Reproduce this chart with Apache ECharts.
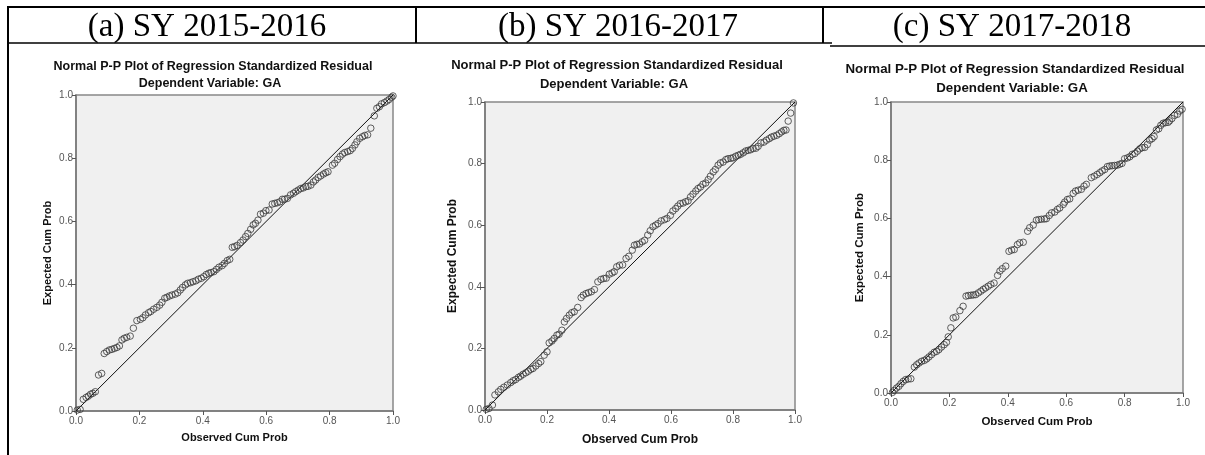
<!DOCTYPE html>
<html>
<head>
<meta charset="utf-8">
<script src="https://cdn.jsdelivr.net/npm/echarts@6/dist/echarts.min.js"></script>
<style>
html,body{margin:0;padding:0;background:#fff;}
#c{width:1205px;height:455px;}
</style>
</head>
<body>
<div id="c"></div>
<script>
// ---------- data ----------
const panelHeaders = ['(a) SY 2015-2016', '(b) SY 2016-2017', '(c) SY 2017-2018'];
const chartTitle = 'Normal P-P Plot of Regression Standardized Residual';
const chartSubtitle = 'Dependent Variable: GA';
const xAxisTitle = 'Observed Cum Prob';
const yAxisTitle = 'Expected Cum Prob';
const tickValues = [0.0, 0.2, 0.4, 0.6, 0.8, 1.0];
const refDiagonal = [[0, 0], [1, 1]];

// Panel (a) SY 2015-2016
const observedA = [0.004,0.013,0.023,0.032,0.039,0.046,0.053,0.061,0.071,0.081,0.089,0.097,0.105,0.113,0.121,0.129,0.137,0.145,0.152,0.160,0.171,0.181,0.192,0.203,0.211,0.219,0.229,0.236,0.245,0.255,0.264,0.271,0.280,0.287,0.295,0.303,0.313,0.321,0.329,0.336,0.345,0.352,0.361,0.369,0.378,0.386,0.395,0.403,0.411,0.419,0.426,0.435,0.443,0.451,0.461,0.468,0.477,0.485,0.493,0.500,0.508,0.519,0.527,0.535,0.542,0.551,0.559,0.566,0.574,0.582,0.591,0.599,0.609,0.619,0.627,0.635,0.643,0.651,0.658,0.667,0.677,0.686,0.693,0.701,0.709,0.717,0.725,0.732,0.741,0.749,0.756,0.764,0.772,0.781,0.788,0.795,0.809,0.816,0.825,0.833,0.841,0.848,0.857,0.865,0.872,0.880,0.886,0.895,0.904,0.911,0.920,0.930,0.941,0.949,0.957,0.964,0.973,0.981,0.988,0.996,1.000];
const expectedA = [0.003,0.005,0.037,0.043,0.047,0.053,0.056,0.061,0.114,0.119,0.182,0.188,0.193,0.195,0.198,0.201,0.206,0.225,0.230,0.233,0.237,0.262,0.286,0.290,0.295,0.304,0.311,0.315,0.322,0.328,0.335,0.344,0.357,0.360,0.364,0.367,0.370,0.374,0.383,0.391,0.399,0.404,0.406,0.409,0.412,0.417,0.420,0.425,0.432,0.436,0.438,0.441,0.448,0.455,0.460,0.467,0.476,0.480,0.518,0.520,0.524,0.533,0.541,0.552,0.562,0.575,0.589,0.594,0.604,0.623,0.626,0.634,0.636,0.655,0.657,0.659,0.662,0.670,0.670,0.673,0.684,0.689,0.694,0.699,0.704,0.706,0.710,0.711,0.715,0.725,0.731,0.739,0.744,0.750,0.754,0.757,0.778,0.784,0.796,0.805,0.813,0.818,0.821,0.824,0.831,0.842,0.852,0.863,0.868,0.872,0.874,0.895,0.934,0.958,0.963,0.972,0.976,0.981,0.986,0.993,0.997];

// Panel (b) SY 2016-2017
const observedB = [0.004,0.013,0.024,0.032,0.043,0.051,0.061,0.072,0.083,0.091,0.099,0.108,0.115,0.123,0.132,0.140,0.148,0.155,0.164,0.173,0.180,0.191,0.200,0.207,0.216,0.223,0.232,0.239,0.248,0.256,0.263,0.272,0.280,0.288,0.299,0.310,0.317,0.326,0.334,0.343,0.353,0.364,0.374,0.383,0.391,0.401,0.410,0.417,0.425,0.434,0.444,0.455,0.464,0.475,0.482,0.490,0.498,0.507,0.515,0.525,0.533,0.542,0.550,0.558,0.568,0.579,0.587,0.598,0.606,0.615,0.622,0.630,0.639,0.647,0.655,0.663,0.671,0.680,0.687,0.695,0.703,0.712,0.720,0.727,0.736,0.743,0.752,0.759,0.768,0.777,0.784,0.793,0.800,0.809,0.817,0.824,0.833,0.841,0.849,0.857,0.865,0.874,0.881,0.890,0.900,0.908,0.917,0.924,0.932,0.941,0.949,0.957,0.964,0.971,0.978,0.986,0.995];
const expectedB = [0.002,0.005,0.016,0.049,0.059,0.067,0.074,0.081,0.089,0.095,0.099,0.106,0.110,0.116,0.121,0.126,0.132,0.135,0.143,0.151,0.157,0.178,0.189,0.218,0.224,0.232,0.243,0.246,0.259,0.286,0.297,0.308,0.316,0.319,0.333,0.365,0.373,0.378,0.381,0.384,0.391,0.416,0.424,0.427,0.428,0.441,0.445,0.449,0.465,0.470,0.471,0.492,0.499,0.519,0.535,0.538,0.539,0.546,0.551,0.568,0.582,0.595,0.600,0.605,0.614,0.618,0.622,0.632,0.646,0.654,0.662,0.670,0.672,0.676,0.679,0.692,0.701,0.711,0.719,0.724,0.733,0.737,0.748,0.759,0.773,0.781,0.795,0.802,0.805,0.813,0.816,0.817,0.819,0.824,0.827,0.830,0.835,0.841,0.843,0.845,0.849,0.850,0.856,0.867,0.870,0.876,0.881,0.886,0.889,0.892,0.897,0.903,0.908,0.909,0.938,0.964,0.997];

// Panel (c) SY 2017-2018
const observedC = [0.005,0.011,0.019,0.027,0.034,0.042,0.050,0.059,0.068,0.080,0.088,0.096,0.105,0.114,0.122,0.130,0.139,0.148,0.156,0.164,0.173,0.182,0.190,0.196,0.205,0.213,0.222,0.236,0.247,0.257,0.265,0.274,0.282,0.290,0.299,0.308,0.316,0.324,0.333,0.342,0.353,0.365,0.373,0.381,0.393,0.404,0.413,0.422,0.433,0.441,0.453,0.468,0.475,0.487,0.498,0.506,0.515,0.525,0.532,0.542,0.550,0.561,0.570,0.578,0.590,0.595,0.604,0.612,0.624,0.632,0.641,0.652,0.661,0.669,0.686,0.696,0.706,0.715,0.723,0.732,0.741,0.749,0.757,0.766,0.775,0.783,0.791,0.800,0.810,0.818,0.826,0.835,0.844,0.852,0.860,0.869,0.878,0.886,0.894,0.901,0.909,0.917,0.924,0.932,0.940,0.949,0.954,0.962,0.971,0.981,0.989,0.997];
const expectedC = [0.002,0.009,0.017,0.023,0.032,0.040,0.046,0.048,0.049,0.089,0.097,0.103,0.109,0.112,0.117,0.124,0.132,0.140,0.143,0.149,0.158,0.166,0.174,0.193,0.224,0.258,0.261,0.283,0.298,0.333,0.335,0.336,0.337,0.338,0.344,0.350,0.356,0.361,0.367,0.373,0.378,0.404,0.419,0.427,0.436,0.487,0.491,0.493,0.510,0.516,0.518,0.556,0.568,0.577,0.594,0.596,0.597,0.598,0.599,0.610,0.619,0.622,0.631,0.636,0.648,0.656,0.665,0.667,0.686,0.694,0.697,0.700,0.711,0.717,0.740,0.745,0.751,0.757,0.763,0.768,0.778,0.780,0.781,0.782,0.783,0.786,0.789,0.805,0.808,0.812,0.820,0.823,0.831,0.839,0.843,0.844,0.854,0.869,0.874,0.881,0.904,0.908,0.920,0.927,0.929,0.930,0.935,0.943,0.954,0.958,0.969,0.975];

// ---------- layout (styling only) ----------
const panels = [
  {obs: observedA, exp: expectedA, grid: {left: 76, top: 95, width: 317, height: 316}, headerX: 207, titleX: 213,
   titleY: 60, subY: 77, titleSize: 12.5, axisNameSize: 11, yNameGap: 23, xNameGap: 21},
  {obs: observedB, exp: expectedB, grid: {left: 485, top: 102, width: 310, height: 308}, headerX: 618, titleX: 617,
   titleY: 59, subY: 78, titleSize: 13, axisNameSize: 12, yNameGap: 26, xNameGap: 24},
  {obs: observedC, exp: expectedC, grid: {left: 891, top: 102, width: 292, height: 291}, headerX: 1012, titleX: 1015,
   titleY: 63, subY: 82, titleSize: 13.3, axisNameSize: 11.5, yNameGap: 25, xNameGap: 23}
];

const FONT = '"Liberation Sans", Arial, sans-serif';
const grids = [], xAxes = [], yAxes = [], series = [], titles = [];

function axisCommon(i, name, gap, isY, nameSize) {
  return {
    type: 'value', gridIndex: i, min: 0, max: 1, interval: 0.2,
    name: name, nameLocation: 'middle', nameGap: gap,
    nameTextStyle: {fontFamily: FONT, fontWeight: 'bold', fontSize: nameSize, color: '#111'},
    axisLine: {show: true, onZero: false, lineStyle: {color: '#777', width: 1.5}},
    axisTick: {show: true, inside: false, length: 4, lineStyle: {color: '#555', width: 1}},
    axisLabel: {show: true, margin: isY ? 3 : 5, fontFamily: FONT, fontSize: 10, color: '#555',
      formatter: v => (tickValues.includes(Math.round(v * 10) / 10) ? v.toFixed(1) : '')},
    splitLine: {show: false}
  };
}

panels.forEach((p, i) => {
  grids.push(Object.assign({show: true, backgroundColor: '#f0f0f0', borderColor: '#888', borderWidth: 1.5, containLabel: false}, p.grid));
  xAxes.push(axisCommon(i, xAxisTitle, p.xNameGap, false, p.axisNameSize));
  yAxes.push(axisCommon(i, yAxisTitle, p.yNameGap, true, p.axisNameSize));
  const pts = p.obs.map((x, k) => [x, p.exp[k]]);
  series.push({
    type: 'line', xAxisIndex: i, yAxisIndex: i, data: refDiagonal, symbol: 'none', silent: true,
    lineStyle: {color: '#111', width: 1}, z: 2, animation: false
  });
  series.push({
    type: 'scatter', xAxisIndex: i, yAxisIndex: i, data: pts, symbol: 'circle', symbolSize: 6.5,
    itemStyle: {color: 'rgba(0,0,0,0)', borderColor: '#3a3a3a', borderWidth: 1}, z: 3, animation: false, clip: false
  });
  titles.push({text: chartTitle, left: p.titleX, top: p.titleY, textAlign: 'center', padding: 0,
    textStyle: {fontFamily: FONT, fontWeight: 'bold', fontSize: p.titleSize, color: '#111'}});
  titles.push({text: chartSubtitle, left: p.titleX - 3, top: p.subY, textAlign: 'center', padding: 0,
    textStyle: {fontFamily: FONT, fontWeight: 'bold', fontSize: p.titleSize, color: '#111'}});
  titles.push({text: panelHeaders[i], left: p.headerX, top: 11, textAlign: 'center', padding: 0,
    textStyle: {fontFamily: '"Liberation Serif", "Times New Roman", serif', fontWeight: 'normal', fontSize: 33, color: '#000'}});
});

const lineStyle = {stroke: '#000', lineWidth: 2};
const graphics = [
  {type: 'line', shape: {x1: 8, y1: 7, x2: 1205, y2: 7}, style: lineStyle},
  {type: 'line', shape: {x1: 8, y1: 6, x2: 8, y2: 455}, style: lineStyle},
  {type: 'line', shape: {x1: 8, y1: 43, x2: 832, y2: 43}, style: {stroke: '#000', lineWidth: 1.5}},
  {type: 'line', shape: {x1: 830, y1: 46, x2: 1205, y2: 46}, style: {stroke: '#000', lineWidth: 1.5}},
  {type: 'line', shape: {x1: 416, y1: 7, x2: 416, y2: 43}, style: lineStyle},
  {type: 'line', shape: {x1: 823, y1: 7, x2: 823, y2: 43}, style: lineStyle}
];

const chart = echarts.init(document.getElementById('c'), null, {renderer: 'canvas'});
chart.setOption({
  backgroundColor: '#fff',
  animation: false,
  title: titles,
  grid: grids,
  xAxis: xAxes,
  yAxis: yAxes,
  series: series,
  graphic: graphics
});
</script>
</body>
</html>
